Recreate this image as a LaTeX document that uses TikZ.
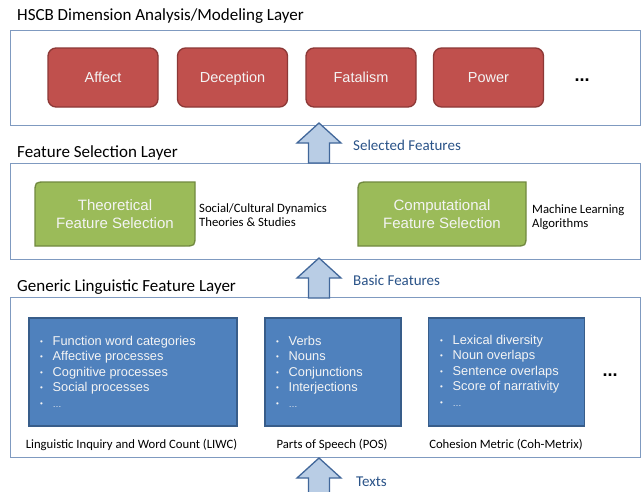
\documentclass[tikz,border=0pt]{standalone}
\usepackage{fontspec}
\setmainfont{Carlito}
\newfontfamily\arialf{Liberation Sans}
\usetikzlibrary{calc,backgrounds}
\definecolor{redf}{HTML}{C0504D}
\definecolor{redd}{HTML}{8C3836}
\definecolor{grnf}{HTML}{9BBB59}
\definecolor{grnd}{HTML}{71893F}
\definecolor{bluf}{HTML}{4F81BD}
\definecolor{blud}{HTML}{385D8A}
\definecolor{layd}{HTML}{7F9AC0}
\definecolor{arrf}{HTML}{B9CDE5}
\definecolor{arrd}{HTML}{41679A}
\definecolor{lblc}{HTML}{2A5388}
\definecolor{boxtxt}{HTML}{F4F4F4}
\begin{document}
\begin{tikzpicture}[x=1pt,y=-1pt,
  layerbox/.style={draw=layd, line width=1pt, inner sep=0pt, outer sep=0pt},
  laytitle/.style={anchor=west, inner sep=0pt, font=\fontsize{17}{20}\selectfont},
  redbox/.style={draw=redd, fill=redf, line width=1.3pt, rounded corners=8pt,
    minimum width=110pt, minimum height=59pt, inner sep=0pt,
    text height=10.5pt, text depth=0pt,
    text=boxtxt, font=\arialf\fontsize{14.5}{17}\selectfont},
  grnnode/.style={minimum height=64pt, inner sep=0pt, outer sep=0pt, align=center,
    text=boxtxt, font=\arialf\fontsize{15}{18}\selectfont},
  grnpath/.style={draw=grnd, fill=grnf, line width=1.3pt},
  blubox/.style={draw=blud, fill=bluf, line width=1.3pt, inner sep=0pt, outer sep=0pt,
    minimum height=108pt},
  bullets/.style={anchor=north west, inner sep=0pt, align=left, text=boxtxt,
    font=\arialf\fontsize{12.8}{15.5}\selectfont},
  caption/.style={inner sep=0pt, font=\fontsize{12.7}{14}\selectfont},
  sidetxt/.style={anchor=west, inner sep=0pt, align=left, font=\fontsize{12.7}{14.5}\selectfont},
  arrlbl/.style={anchor=west, inner sep=0pt, text=lblc, font=\fontsize{15}{17}\selectfont},
  dots/.style={inner sep=0pt, font=\arialf\bfseries\fontsize{18}{20}\selectfont},
  blockarrow/.style={draw=arrd, fill=arrf, line width=1.3pt, line join=miter}
]
\useasboundingbox (0,0) rectangle (643,491);
\begin{scope}[on background layer]
\fill[white] (0,0) rectangle (643,491);
\end{scope}

% layer boxes
\node[layerbox, minimum width=630pt, minimum height=95pt] (L1) at (325,77.5) {};
\node[layerbox, minimum width=630pt, minimum height=96pt] (L2) at (325,211) {};
\node[layerbox, minimum width=630pt, minimum height=160pt] (L3) at (325,377.5) {};

\node[laytitle] (T1) at (17,16) {HSCB Dimension Analysis/Modeling Layer};
\node[laytitle] (T2) at (17,153) {Feature Selection Layer};
\node[laytitle] (T3) at (17,287) {Generic Linguistic Feature Layer};

% red boxes
\node[redbox] (R1) at (103,77.5) {Affect};
\node[redbox] (R2) at (232.5,77.5) {Deception};
\node[redbox] (R3) at (361,77.5) {Fatalism};
\node[redbox] (R4) at (488.5,77.5) {Power};
\node[dots] (D1) at (582,80) {...};

% green boxes
\node[grnnode, minimum width=160pt] (G1) at (115,214) {Theoretical\\Feature Selection};
\node[grnnode, minimum width=168pt] (G2) at (442,214) {Computational\\Feature Selection};
\begin{scope}[on background layer]
\foreach \g in {G1,G2}{
\draw[grnpath] ($(\g.north west)+(0,11)$) .. controls (\g.north west) .. ($(\g.north west)+(11,0)$)
  -- (\g.north east) -- ($(\g.south east)+(0,-11)$) .. controls (\g.south east) .. ($(\g.south east)+(-11,0)$)
  -- (\g.south west) -- cycle;
}
\end{scope}
\node[sidetxt] (S1) at (199,215) {Social/Cultural Dynamics\\Theories \& Studies};
\node[sidetxt] (S2) at (532,217) {Machine Learning\\Algorithms};

% blue boxes
\node[blubox, minimum width=208pt] (B1) at (133,372) {};
\node[blubox, minimum width=136pt] (B2) at (333,372) {};
\node[blubox, minimum width=156pt] (B3) at (506.5,372) {};
\node[dots] (D2) at (610,375) {...};

\newcommand{\bl}{\makebox[12.5pt][l]{\raisebox{1pt}{\fontsize{8}{8}\selectfont\textbullet}}}
\node[bullets] (BT1) at (40,336) {\bl Function word categories\\\bl Affective processes\\\bl Cognitive processes\\\bl Social processes\\\bl \fontsize{9}{15.5}\selectfont\dots};
\node[bullets] (BT2) at (276,336) {\bl Verbs\\\bl Nouns\\\bl Conjunctions\\\bl Interjections\\\bl \fontsize{9}{15.5}\selectfont\dots};
\node[bullets] (BT3) at (440,335) {\bl Lexical diversity\\\bl Noun overlaps\\\bl Sentence overlaps\\\bl Score of narrativity\\\bl \fontsize{9}{15.5}\selectfont\dots};

\node[caption] (C1) at (131.5,445) {Linguistic Inquiry and Word Count (LIWC)};
\node[caption] (C2) at (332,445) {Parts of Speech (POS)};
\node[caption] (C3) at (506,445) {Cohesion Metric (Coh-Metrix)};

% block arrows
\coordinate (A1t) at (319,123);
\coordinate (A1b) at (319,163);
\coordinate (A2t) at (319,258);
\coordinate (A2b) at (319,298);
\coordinate (A3t) at (319,458);
\coordinate (A3b) at (319,498);
\foreach \a in {A1,A2,A3}{
\draw[blockarrow] (\a t) -- ($(\a t)+(22,20)$) -- ($(\a t)+(10.5,20)$) -- ($(\a b)+(10.5,0)$)
  -- ($(\a b)+(-10.5,0)$) -- ($(\a t)+(-10.5,20)$) -- ($(\a t)+(-22,20)$) -- cycle;
}
\node[arrlbl] (AL1) at (353,145) {Selected Features};
\node[arrlbl] (AL2) at (353,280) {Basic Features};
\node[arrlbl] (AL3) at (356,482) {Texts};
\end{tikzpicture}
\end{document}
